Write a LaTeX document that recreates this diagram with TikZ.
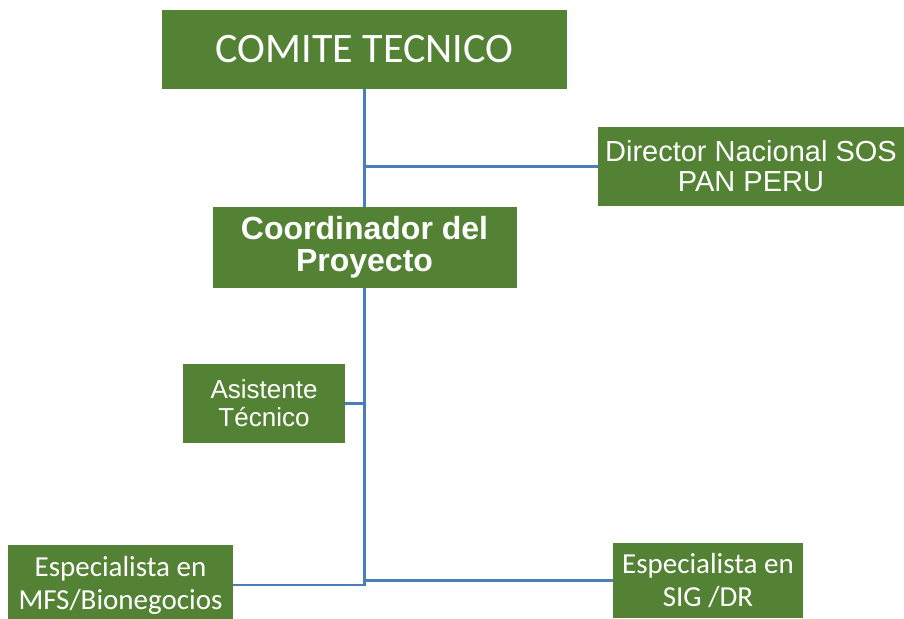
\documentclass[tikz,border=0pt]{standalone}
\usepackage{fontspec}
\newfontfamily\carlito{Carlito}
\newfontfamily\arialfam{Liberation Sans}
\definecolor{boxgreen}{HTML}{548235}
\definecolor{linkblue}{HTML}{4A7EBB}
\tikzset{
	orgbox/.style={fill=boxgreen, text=white, inner sep=0pt, align=center},
	link/.style={draw=linkblue, line width=2.5pt}
}

\begin{document}
\begin{tikzpicture}[x=1pt, y=-1pt]
			%%%%% START %%%%%
			\useasboundingbox (0, 0) rectangle (904, 618);
			
			\node[orgbox, minimum width=405pt, minimum height=79pt, font=\carlito\fontsize{42}{44}\selectfont] (comite) at (364.5, 49.5) {COMITE TECNICO};
			\node[orgbox, minimum width=306pt, minimum height=79pt, font=\arialfam\fontsize{29}{30}\selectfont] (director) at (751, 166.5) {Director Nacional SOS\\PAN PERU};
			\node[orgbox, minimum width=304pt, minimum height=81pt, font=\arialfam\bfseries\fontsize{32}{32}\selectfont] (coord) at (364.5, 247.5) {Coordinador del\\Proyecto};
			
			\node[orgbox, minimum width=162pt, minimum height=79pt, font=\arialfam\fontsize{26}{28}\selectfont] (asist) at (264, 403.5) {Asistente\\T\'ecnico};
			
			% bottom row, boxes run past the lower edge
			\node[orgbox, minimum width=225pt, minimum height=80pt, font=\carlito\fontsize{29}{33}\selectfont] (mfs) at (120.5, 585) {Especialista en\\MFS/Bionegocios};
			\node[orgbox, minimum width=190pt, minimum height=75pt, font=\carlito\fontsize{29}{33}\selectfont] (sig) at (708, 580.5) {Especialista en\\SIG /DR};
			
			\draw[link] (comite.south) -- (coord.north);
			\draw[link] (comite.south |- director.west) -- (director.west);
			\draw[link] (coord.south) -- (coord.south |- mfs.east) -- (mfs.east);
			\draw[link] (asist.east) -- (asist.east -| coord.south);
			\draw[link] (sig.west) -- (sig.west -| coord.south);
			
			%%%%% END %%%%%
\end{tikzpicture}
\end{document}
